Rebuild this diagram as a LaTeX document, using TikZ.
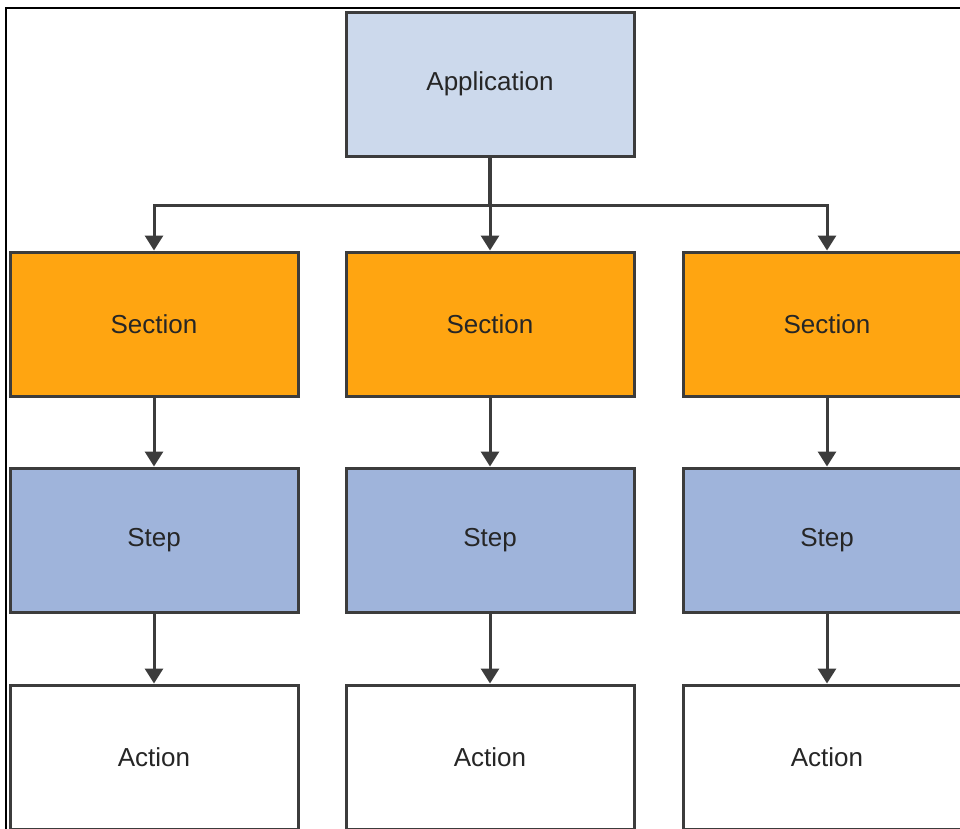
\documentclass[tikz,border=0pt]{standalone}
\usepackage{fontspec}
\setmainfont{Liberation Sans}
\usetikzlibrary{arrows.meta}
\definecolor{appfill}{HTML}{CCD9EC}
\definecolor{secfill}{HTML}{FFA511}
\definecolor{stepfill}{HTML}{9FB4DB}
\definecolor{edge}{HTML}{3C3C3C}
\begin{document}
\begin{tikzpicture}[x=1pt,y=-1pt,
  box/.style={draw=edge,line width=3pt,minimum width=288pt,minimum height=144pt,inner sep=0pt,
    font=\fontsize{26}{30}\selectfont,text=black!85},
  appbox/.style={box,fill=appfill},
  secbox/.style={box,fill=secfill},
  stepbox/.style={box,fill=stepfill},
  actbox/.style={box,fill=white},
  conn/.style={draw=edge,line width=3pt,-{Triangle[length=15pt,width=18pt]}},
  wire/.style={draw=edge,line width=4pt}]
\useasboundingbox (0,0) rectangle (960,828);
\begin{scope}
\clip (0,0) rectangle (960,828);
\fill[white] (0,0) rectangle (960,828);
\node[appbox] (app) at (490,84) {Application};
\node[secbox] (s1) at (154,324) {Section};
\node[secbox] (s2) at (490,324) {Section};
\node[secbox] (s3) at (827,324) {Section};
\node[stepbox] (t1) at (154,540) {Step};
\node[stepbox] (t2) at (490,540) {Step};
\node[stepbox] (t3) at (827,540) {Step};
\node[actbox] (a1) at (154,757) {Action};
\node[actbox] (a2) at (490,757) {Action};
\node[actbox] (a3) at (827,757) {Action};
\coordinate (j) at (490,205);
\draw[wire] (app.south) -- (j);
\draw[conn] (j) -| (s1.north);
\draw[conn] (j) -| (s3.north);
\draw[conn] (j) -- (s2.north);
\draw[conn] (s1) -- (t1);
\draw[conn] (s2) -- (t2);
\draw[conn] (s3) -- (t3);
\draw[conn] (t1) -- (a1);
\draw[conn] (t2) -- (a2);
\draw[conn] (t3) -- (a3);
\draw[black,line width=2pt] (6,830) -- (6,8) -- (962,8);
\end{scope}
\end{tikzpicture}
\end{document}
